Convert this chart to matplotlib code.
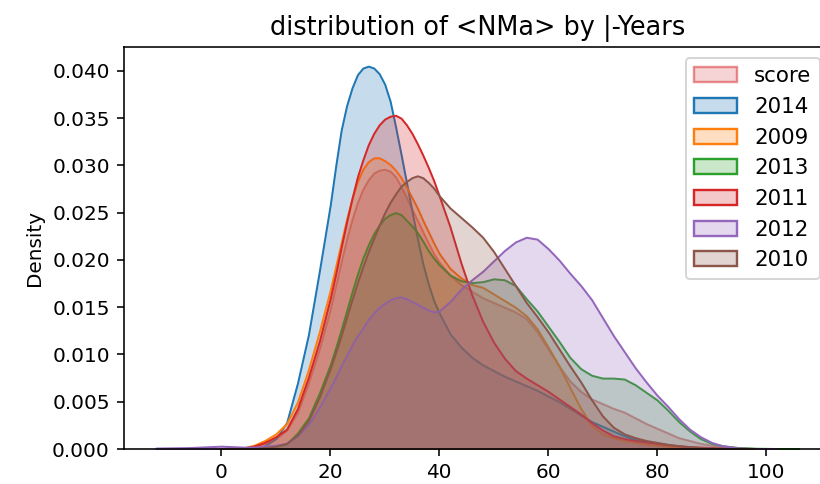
import numpy as np
import matplotlib
matplotlib.use("Agg")
import matplotlib.pyplot as plt
from matplotlib.patches import Patch
from matplotlib.colors import to_rgba
from matplotlib.ticker import MultipleLocator

nan = np.nan

x = [-12, -6, 0, 4, 6, 8, 10, 12, 14, 16, 18,
     20, 21, 22, 23, 24, 25, 26, 27, 28, 29, 30, 31, 32, 33, 34, 35, 36, 37, 38, 39, 40,
     42, 44, 46, 48, 50, 52, 54, 56, 58, 60, 62, 64, 66, 68, 70, 72, 74, 76, 78, 80,
     82, 84, 86, 88, 90, 92,
     95, 98, 102, 106]

# densities, in units of 0.001
d_score = [0.02, 0.03, 0.06, 0.1, 0.3, 0.6, 1.1, 2.0, 3.9, 7.0, 10.6,
           14.8, 17.3, 19.8, 22.2, 24.3, 26.1, 27.5, 28.5, 29.2, 29.5, 29.6, 29.4, 28.8, 27.8, 26.6, 25.4, 24.2, 23.0, 21.8, 20.7, 19.8,
           18.4, 17.4, 16.7, 16.0, 15.5, 15.0, 14.5, 13.8, 12.4, 10.6, 8.8, 7.2, 6.1, 5.3, 4.8, 4.3, 3.9, 3.3, 2.7, 2.2,
           1.7, 1.2, 0.9, 0.6, 0.4, 0.25,
           0.12, 0.06, 0.02, 0.01]
d_2014 = [nan, nan, 0.01, 0.05, 0.1, 0.35, 1.1, 2.8, 7.0, 12.1, 18.8,
          25.8, 29.9, 33.7, 36.3, 38.2, 39.6, 40.3, 40.5, 40.3, 39.7, 38.6, 36.8, 34.1, 31.2, 28.2, 25.2, 22.3, 19.6, 17.5, 15.7, 14.4,
          12.2, 10.8, 9.7, 8.9, 8.3, 7.7, 7.2, 6.7, 6.2, 5.6, 5.0, 4.3, 3.6, 2.9, 2.4, 1.9, 1.4, 1.0, 0.8, 0.6,
          0.45, 0.3, 0.2, 0.15, 0.1, 0.06,
          0.03, 0.01, nan, nan]
d_2009 = [nan, nan, 0.02, 0.1, 0.4, 0.9, 1.6, 2.7, 5.0, 8.4, 12.4,
          16.8, 19.3, 21.8, 24.3, 26.5, 28.3, 29.6, 30.4, 30.8, 30.8, 30.5, 30.1, 29.5, 28.7, 27.7, 26.6, 25.5, 24.2, 23.0, 21.8, 20.7,
          19.1, 18.1, 17.4, 17.1, 16.4, 15.7, 15.0, 14.1, 12.7, 10.8, 8.8, 6.5, 4.3, 2.5, 1.6, 1.2, 0.9, 0.7, 0.5, 0.4,
          0.3, 0.2, 0.15, 0.1, 0.07, 0.05,
          0.02, 0.01, nan, nan]
d_2013 = [nan, nan, 0.0, 0.02, 0.05, 0.15, 0.3, 0.55, 1.7, 3.3, 5.9,
          8.9, 10.7, 12.6, 14.6, 16.6, 18.5, 20.2, 21.6, 22.8, 23.7, 24.4, 24.8, 25.0, 24.8, 24.2, 23.6, 22.9, 22.0, 21.0, 20.2, 19.5,
          18.4, 17.8, 17.6, 17.7, 18.0, 17.9, 17.3, 15.9, 14.6, 13.0, 11.4, 9.7, 8.5, 7.8, 7.5, 7.5, 7.4, 6.8, 6.0, 5.2,
          4.1, 2.9, 1.9, 1.1, 0.6, 0.35,
          0.15, 0.08, 0.05, 0.05]
d_2011 = [nan, nan, 0.02, 0.1, 0.3, 0.7, 1.3, 2.1, 4.3, 7.6, 11.4,
          15.9, 18.5, 21.3, 24.0, 26.5, 28.8, 30.6, 32.2, 33.4, 34.3, 34.9, 35.2, 35.3, 35.0, 34.3, 33.4, 32.3, 31.1, 29.8, 28.4, 26.8,
          23.5, 19.7, 16.3, 13.5, 11.3, 9.6, 8.3, 7.5, 6.8, 6.1, 5.3, 4.5, 3.7, 2.8, 2.0, 1.4, 1.1, 0.9, 0.75, 0.6,
          0.45, 0.35, 0.25, 0.2, 0.15, 0.1,
          0.06, 0.03, 0.01, nan]
d_2012 = [0.1, 0.15, 0.3, 0.2, 0.2, 0.3, 0.4, 0.6, 1.4, 2.6, 4.4,
          6.5, 7.6, 8.8, 9.9, 11.0, 12.0, 12.8, 13.7, 14.4, 15.0, 15.4, 15.8, 16.0, 16.1, 15.9, 15.6, 15.3, 15.0, 14.7, 14.5, 14.6,
          15.6, 16.9, 17.9, 18.8, 19.9, 21.0, 21.9, 22.4, 22.2, 21.2, 20.0, 18.6, 17.3, 15.8, 13.9, 12.0, 10.3, 8.6, 7.1, 5.7,
          4.5, 3.2, 2.1, 1.3, 0.7, 0.35,
          0.12, 0.05, 0.02, nan]
d_2010 = [nan, nan, 0.0, 0.02, 0.05, 0.15, 0.3, 0.6, 1.5, 3.0, 5.5,
          8.5, 10.2, 12.0, 13.9, 15.8, 17.6, 19.3, 20.9, 22.3, 23.7, 25.0, 26.1, 27.0, 27.8, 28.3, 28.7, 28.9, 28.7, 28.2, 27.6, 26.8,
          25.5, 24.5, 23.5, 22.4, 20.9, 19.1, 17.3, 15.5, 14.0, 12.4, 10.6, 8.8, 7.1, 5.2, 3.5, 2.3, 1.6, 1.2, 0.9, 0.7,
          0.5, 0.35, 0.25, 0.15, 0.1, 0.06,
          0.03, 0.01, nan, nan]

labels = ["score", "2014", "2009", "2013", "2011", "2012", "2010"]
colors = ["#d62728", "#1f77b4", "#ff7f0e", "#2ca02c", "#d62728", "#9467bd", "#8c564b"]
series = [d_score, d_2014, d_2009, d_2013, d_2011, d_2012, d_2010]
face_alpha = [0.2, 0.25, 0.25, 0.25, 0.25, 0.25, 0.25]
edge_alpha = [0.5, 1, 1, 1, 1, 1, 1]

plt.rcParams["font.size"] = 10

fig = plt.figure(figsize=(820 / 144, 484 / 144), dpi=144)
ax = fig.add_axes([0.151, 0.0723, 0.862, 0.8306])

xs = np.array(x, dtype=float)
handles = []
for lab, col, ys, fa, ea in zip(labels, colors, series, face_alpha, edge_alpha):
    yv = np.array(ys, dtype=float) / 1000.0
    m = ~np.isnan(yv)
    ax.fill_between(xs[m], 0, yv[m], facecolor=to_rgba(col, fa),
                    edgecolor=to_rgba(col, ea), linewidth=1.0)
    handles.append(Patch(facecolor=to_rgba(col, fa), edgecolor=to_rgba(col, ea),
                         linewidth=1.2, label=lab))

ax.set_ylim(bottom=0)
ax.yaxis.set_major_locator(MultipleLocator(0.005))
ax.set_ylabel("Density")
ax.set_title("distribution of <NMa> by |-Years", fontsize=12.75)
ax.legend(handles=handles, loc="upper right", fontsize=10.7)

fig.savefig("out.png", dpi=144)
